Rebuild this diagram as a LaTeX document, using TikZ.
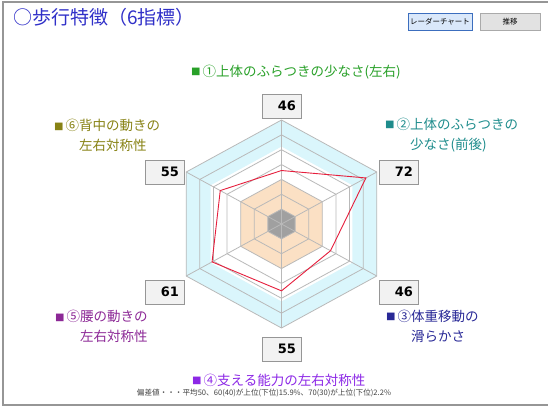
\documentclass[tikz,border=0pt]{standalone}
\usepackage{fontspec}
\newfontfamily\jpfont{Noto Sans CJK JP}
\newfontfamily\numfont{DejaVu Sans}
\usetikzlibrary{positioning}
\definecolor{title_blue}{RGB}{48,48,200}
\definecolor{c_one}{RGB}{40,160,40}
\definecolor{c_two}{RGB}{30,140,140}
\definecolor{c_three}{RGB}{40,40,150}
\definecolor{c_four}{RGB}{140,40,230}
\definecolor{c_five}{RGB}{140,40,150}
\definecolor{c_six}{RGB}{135,130,20}
\definecolor{band_cyan}{RGB}{218,246,252}
\definecolor{band_peach}{RGB}{251,224,196}
\definecolor{center_gray}{RGB}{160,160,160}
\definecolor{ring_gray}{RGB}{185,185,185}
\definecolor{data_red}{RGB}{230,30,60}
\definecolor{box_fill}{RGB}{242,242,242}
\definecolor{box_gray}{RGB}{150,150,150}
\definecolor{btn_fill}{RGB}{218,232,250}
\definecolor{btn_blue}{RGB}{60,110,190}
\definecolor{btn_off}{RGB}{226,226,226}
\definecolor{btn_gray}{RGB}{170,170,170}
\newcommand{\marksq}{\makebox[0.85em][l]{\raisebox{0.5pt}{\fontsize{9.5}{9.5}\selectfont■}}}
\tikzset{
frame_line/.style={draw=box_gray, line width=1.5pt},
ring_line/.style={draw=ring_gray, line width=0.8pt}
}

\begin{document}
\begin{tikzpicture}
[x=1pt, y=-1pt,
value_box/.style ={rectangle, draw=box_gray, fill=box_fill, minimum width=39pt, minimum height=24pt, text width=29pt, align=right, inner sep=0pt, font=\numfont\bfseries\fontsize{13}{15}\selectfont},
axis_label/.style ={anchor=west, inner sep=0pt, align=left, font=\jpfont\fontsize{13.5}{20}\selectfont},
title_text/.style ={anchor=west, inner sep=0pt, text=title_blue, font=\jpfont\fontsize{19}{19}\selectfont},
button_on/.style ={rectangle, draw=btn_blue, fill=btn_fill, minimum width=64pt, minimum height=17pt, inner sep=0pt, font=\jpfont\fontsize{7.5}{7.5}\selectfont},
button_off/.style ={button_on, draw=btn_gray, fill=btn_off, minimum width=60pt},
foot_note/.style ={inner sep=0pt, text=black!75, font=\jpfont\fontsize{7.6}{8}\selectfont},
spoke_line/.style ={draw=ring_gray, line width=0.8pt},
data_line/.style ={draw=data_red, line width=0.9pt}]

\useasboundingbox (0,0) rectangle (548,407);
\draw[frame_line] (548,2) -- (3,2) -- (3,405) -- (548,405);

%%Titel und Knoepfe%%
\node[title_text] (title) at (13,17) {○歩行特徴（6指標）};
\node[button_on] (btn_radar) at (440,21.5) {レーダーチャート};
\node[button_off] (btn_trend) at (510,21.5) {推移};

%%Netz%%
\begin{scope}[shift={(281.5,224)}, x=1.058pt, y=1pt]
\fill[band_cyan] (90:104) foreach \a in {30,-30,-90,210,150} { -- (\a:104) } -- cycle;
\fill[white] (90:77.3) foreach \a in {30,-30,-90,210,150} { -- (\a:77.3) } -- cycle;
\fill[band_peach] (90:44.6) foreach \a in {30,-30,-90,210,150} { -- (\a:44.6) } -- cycle;
\fill[center_gray] (90:14.9) foreach \a in {30,-30,-90,210,150} { -- (\a:14.9) } -- cycle;
\foreach \v in {20,30,...,80}
  {
  \pgfmathsetmacro\r{(\v-10)/70*104}
  \draw[ring_line] (90:\r) foreach \a in {30,-30,-90,210,150} { -- (\a:\r) } -- cycle;
  }
\foreach \a [count=\i] in {90,30,-30,-90,210,150}
  {
  \coordinate (o\i) at (\a:104);
  \draw[spoke_line] (0,0) -- (o\i);
  }
% Messwerte
\foreach \a/\v [count=\i] in {90/46,30/72,-30/46,-90/55,210/61,150/55}
  \coordinate (d\i) at (\a:{(\v-10)/70*104});
\draw[data_line] (d1) -- (d2) -- (d3) -- (d4) -- (d5) -- (d6) -- cycle;
\end{scope}

%%Werte%%
\node[value_box, above=2pt of o1] (val1) {46};
\node[value_box, right=2pt of o2] (val2) {72};
\node[value_box, below right=4pt and 2pt of o3] (val3) {46};
\node[value_box, below=9pt of o4] (val4) {55};
\node[value_box, below left=4pt and 2pt of o5] (val5) {61};
\node[value_box, left=2pt of o6] (val6) {55};

%%Achsen%%
\node[axis_label, text=c_one] (lab1) at (191,72) {\marksq①上体のふらつきの少なさ(左右)};
\node[axis_label, text=c_two] (lab2) at (385,135) {\marksq②上体のふらつきの\\\phantom{\marksq②}少なさ(前後)};
\node[axis_label, text=c_three] (lab3) at (386,326) {\marksq③体重移動の\\\phantom{\marksq③}滑らかさ};
\node[axis_label, text=c_four] (lab4) at (192,380) {\marksq④支える能力の左右対称性};
\node[axis_label, text=c_five] (lab5) at (55,326.5) {\marksq⑤腰の動きの\\\phantom{\marksq⑤}左右対称性};
\node[axis_label, text=c_six] (lab6) at (54,135.5) {\marksq⑥背中の動きの\\\phantom{\marksq⑥}左右対称性};

\node[foot_note] (note) at (264,393) {偏差値・・・平均50、60(40)が上位(下位)15.9\%、70(30)が上位(下位)2.2\%};

\end{tikzpicture}
\end{document}
